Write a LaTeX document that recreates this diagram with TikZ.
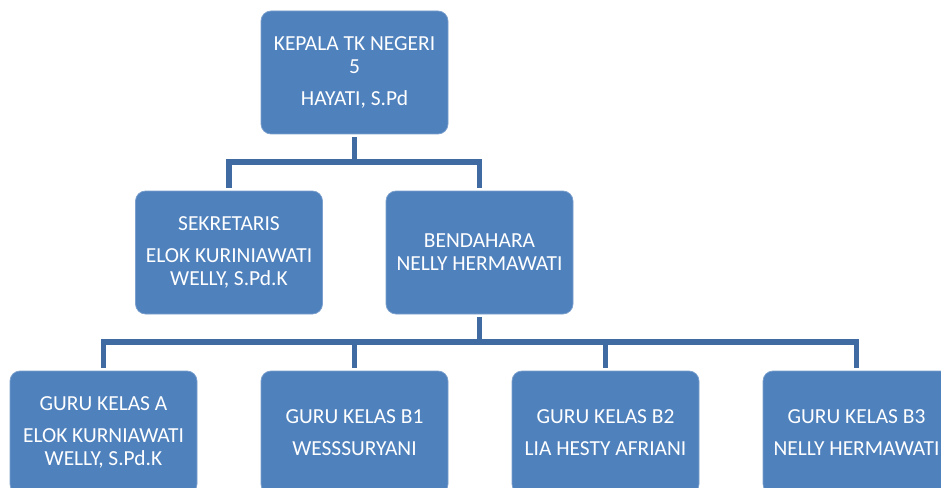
\documentclass[tikz,border=0pt]{standalone}
\usepackage{fontspec}
\setmainfont{Carlito}
\usetikzlibrary{positioning}
\definecolor{boxblue}{HTML}{4F81BD}
\definecolor{lineblue}{HTML}{3F6BA2}

\begin{document}
\begin{tikzpicture}[
  box/.style  = {
    draw=boxblue!75!white, line width=0.4pt,
    fill=boxblue, rounded corners=0.2cm,
    align=center, text=white,
    minimum width=\boxw, minimum height=\boxh,
    inner sep=2pt,
    font=\fontsize{12.2}{13.1}\selectfont
  },
  conn/.style = {draw=lineblue, line width=2.9pt,
    shorten >=0.06cm, shorten <=0.06cm}
]

% ---- constants ----
\def\boxw{3.74cm}   % box width
\def\boxh{2.46cm}   % box height
\def\dx{5.02}       % spacing of the bottom row

% ---- frame (picture is cut at the right and bottom) ----
\useasboundingbox (0,0) rectangle (18.82,-9.76);
\clip (0,0) rectangle (18.82,-9.76);

% ---- nodes ----
\node[box] (kepala) at (7.09,-1.45) {KEPALA TK NEGERI\\5\\[5pt]HAYATI, S.Pd};

\node[box] (sekr) at (4.58,-5.05) {SEKRETARIS\\[5pt]ELOK KURINIAWATI\\WELLY, S.Pd.K};
\node[box] (bend) at (9.59,-5.05) {BENDAHARA\\NELLY HERMAWATI};

\node[box] (kelasA)  at (2.07,-8.65)       {GURU KELAS A\\[5pt]ELOK KURNIAWATI\\WELLY, S.Pd.K};
\node[box] (kelasB1) at (2.07+\dx,-8.65)   {GURU KELAS B1\\[5pt]WESSSURYANI};
\node[box] (kelasB2) at (2.07+2*\dx,-8.65) {GURU KELAS B2\\[5pt]LIA HESTY AFRIANI};
\node[box] (kelasB3) at (2.07+3*\dx,-8.65) {GURU KELAS B3\\[5pt]NELLY HERMAWATI};

% ---- bus lines ----
\coordinate (busA) at (7.09,-3.24);
\coordinate (busB) at (9.59,-6.84);

% ---- connectors ----
\draw[conn] (kepala.south) -- (busA);
\draw[conn, shorten <=0pt] (busA) -| (sekr.north);
\draw[conn, shorten <=0pt] (busA) -| (bend.north);

\draw[conn] (bend.south) -- (busB);
\foreach \k in {kelasA,kelasB1,kelasB2,kelasB3}
  \draw[conn, shorten <=0pt] (busB) -| (\k.north);

\end{tikzpicture}
\end{document}
